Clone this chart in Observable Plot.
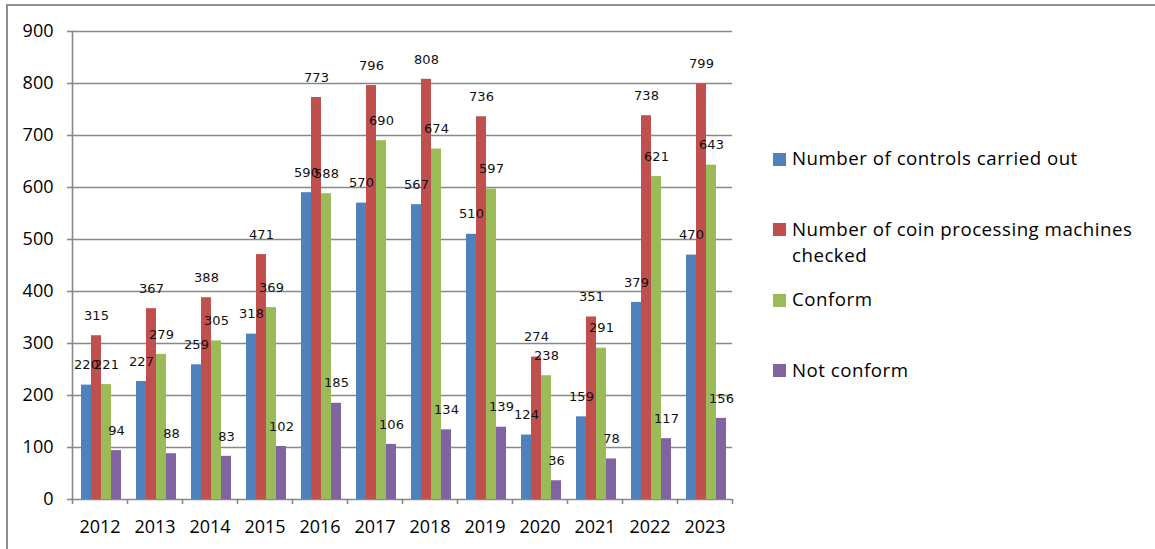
<!DOCTYPE html>
<html>
<head>
<meta charset="utf-8">
<script src="https://cdn.jsdelivr.net/npm/d3@7"></script>
<script src="https://cdn.jsdelivr.net/npm/@observablehq/plot@0.6"></script>
<style>
  html, body { margin: 0; padding: 0; background: #fff; }
  #wrap { position: relative; width: 1155px; height: 549px; overflow: hidden; background: #fff; }
  #border { position: absolute; left: 6px; top: 4px; right: -4px; bottom: -4px; border-top: 2px solid #8f8f8f; border-left: 2px solid #8f8f8f; }
  #chart { position: absolute; left: 0; top: 0; }
  #legend { position: absolute; left: 773px; top: 145px; font-family: "Open Sans", sans-serif; font-size: 18.7px; line-height: 26.7px; letter-spacing: 0.5px; color: #000; }
  .item { position: relative; height: 70.5px; padding-left: 19px; width: 362px; }
  .sw { position: absolute; left: 0; top: 7.6px; width: 13px; height: 13px; }
</style>
</head>
<body>
<div id="wrap">
  <div id="border"></div>
  <div id="chart"></div>
  <div id="legend"></div>
</div>
<script>
const years = ["2012","2013","2014","2015","2016","2017","2018","2019","2020","2021","2022","2023"];
const seriesNames = [
  "Number of controls carried out",
  "Number of coin processing machines checked",
  "Conform",
  "Not conform"
];
const seriesColors = ["#4F81BD", "#C0504D", "#9BBB59", "#8064A2"];
const controls = [220, 227, 259, 318, 590, 570, 567, 510, 124, 159, 379, 470];
const machines = [315, 367, 388, 471, 773, 796, 808, 736, 274, 351, 738, 799];
const conform = [221, 279, 305, 369, 588, 690, 674, 597, 238, 291, 621, 643];
const notConform = [94, 88, 83, 102, 185, 106, 134, 139, 36, 78, 117, 156];
const yTicks = [0, 100, 200, 300, 400, 500, 600, 700, 800, 900];

const seriesValues = [controls, machines, conform, notConform];
const data = years.flatMap((yr, i) =>
  seriesNames.map((s, j) => ({year: yr, series: s, value: seriesValues[j][i]}))
);

const W = 760, H = 549, mL = 72, mR = 28, mT = 31, mB = 50;
const step = (W - mL - mR) / years.length;
const gray = "#888888";

const chart = Plot.plot({
  width: W,
  height: H,
  marginLeft: mL,
  marginRight: mR,
  marginTop: mT,
  marginBottom: mB,
  style: {background: "transparent", fontFamily: "Open Sans", overflow: "visible"},
  fx: {domain: years, paddingInner: 0, paddingOuter: 0, label: null},
  x: {domain: seriesNames, paddingInner: 0, paddingOuter: 0.75, align: 0.58, axis: null},
  y: {domain: [0, 900], label: null},
  color: {domain: seriesNames, range: seriesColors},
  marks: [
    Plot.ruleY(yTicks, {stroke: gray, strokeWidth: 1.6}),
    Plot.barY(data, {fx: "year", x: "series", y: "value", fill: "series"}),
    Plot.text(data, {
      fx: "year", x: "series", y: "value",
      text: d => String(d.value),
      dy: -20, fontSize: 13, fontFamily: "DejaVu Sans", fill: "#111"
    }),
    Plot.frame({anchor: "left", facetAnchor: "left", stroke: gray, strokeWidth: 1.6}),
    Plot.axisY({
      ticks: yTicks, tickSize: 5, tickPadding: 14, stroke: gray, strokeWidth: 1.6,
      fontSize: 18, fontFamily: "Open Sans", color: "#000", label: null
    }),
    Plot.axisFx({
      anchor: "bottom", tickSize: 0, tickPadding: 20.5, fontSize: 18, fontFamily: "Open Sans",
      color: "#000", label: null
    }),
    Plot.axisFx({
      anchor: "bottom", tickSize: 5, tickFormat: () => "", dx: -step / 2,
      stroke: gray, strokeWidth: 1.6, label: null
    }),
    Plot.axisFx({
      anchor: "bottom", ticks: [years[years.length - 1]], tickSize: 5, tickFormat: () => "",
      dx: step / 2, stroke: gray, strokeWidth: 1.6, label: null
    })
  ]
});
document.getElementById("chart").appendChild(chart);

const legend = document.getElementById("legend");
seriesNames.forEach((name, i) => {
  const item = document.createElement("div");
  item.className = "item";
  const sw = document.createElement("span");
  sw.className = "sw";
  sw.style.background = seriesColors[i];
  const label = document.createElement("span");
  label.textContent = name;
  item.appendChild(sw);
  item.appendChild(label);
  legend.appendChild(item);
});
</script>
</body>
</html>
